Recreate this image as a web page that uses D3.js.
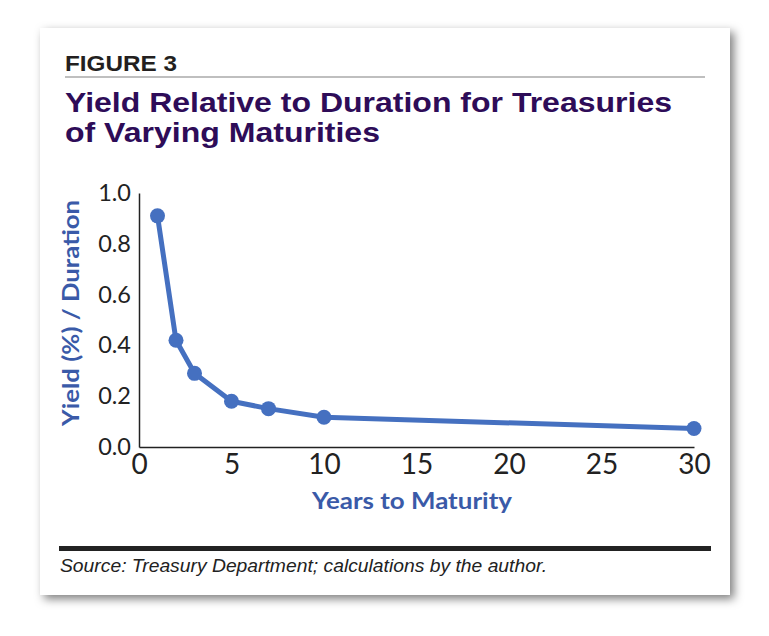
<!DOCTYPE html>
<html>
<head>
  <meta charset="utf-8">
  <script src="https://cdn.jsdelivr.net/npm/d3@7"></script>
  <style>
    body { margin: 0; background: #fff; }
    svg { display: block; }
  </style>
</head>
<body>
  <script>
    // data
    const maturities = [1, 2, 3, 5, 7, 10, 30]
    const ratios = [0.91, 0.42, 0.29, 0.18, 0.151, 0.117, 0.073]
    const xTicks = [0, 5, 10, 15, 20, 25, 30]
    const yTicks = [0, 0.2, 0.4, 0.6, 0.8, 1.0]

    const W = 769, H = 636
    const blue = '#4570c0'
    const labelBlue = '#3a5aa8'
    const purple = '#2e0c58'
    const ink = '#222'

    const svg = d3.select('body').append('svg')
      .attr('width', W).attr('height', H)

    const defs = svg.append('defs')
    const f = defs.append('filter').attr('id', 'shadow')
      .attr('x', '-10%').attr('y', '-10%').attr('width', '120%').attr('height', '120%')
    f.append('feDropShadow')
      .attr('dx', 4).attr('dy', 4).attr('stdDeviation', 5)
      .attr('flood-color', '#000').attr('flood-opacity', 0.5)

    // card
    svg.append('rect')
      .attr('x', 40).attr('y', 28).attr('width', 690).attr('height', 567)
      .attr('fill', '#fff').attr('filter', 'url(#shadow)')

    // header
    svg.append('text')
      .attr('x', 65).attr('y', 71)
      .attr('font-family', 'Liberation Sans, Arial, sans-serif')
      .attr('font-weight', 'bold').attr('font-size', 22)
      .attr('fill', '#231f20')
      .attr('textLength', 112).attr('lengthAdjust', 'spacingAndGlyphs')
      .text('FIGURE 3')

    svg.append('line')
      .attr('x1', 65).attr('x2', 705).attr('y1', 77).attr('y2', 77)
      .attr('stroke', '#aaa').attr('stroke-width', 1.5)

    const titleLines = ['Yield Relative to Duration for Treasuries', 'of Varying Maturities']
    const titleWidths = [607, 315]
    titleLines.forEach((t, i) => {
      svg.append('text')
        .attr('x', 65).attr('y', 112 + i * 29.5)
        .attr('font-family', 'Liberation Sans, Arial, sans-serif')
        .attr('font-weight', 'bold').attr('font-size', 28)
        .attr('fill', purple)
        .attr('textLength', titleWidths[i]).attr('lengthAdjust', 'spacingAndGlyphs')
        .text(t)
    })

    // chart
    const x = d3.scaleLinear().domain([0, 30]).range([139, 694])
    const y = d3.scaleLinear().domain([0, 1]).range([447, 193])

    const xAxis = svg.append('g')
      .attr('transform', `translate(0,${y(0)})`)
      .call(d3.axisBottom(x).tickValues(xTicks).tickSize(0).tickPadding(7).tickFormat(d3.format('d')))
    xAxis.select('.domain').attr('stroke', ink).attr('stroke-width', 1.5)
    xAxis.selectAll('text')
      .attr('font-family', 'Lato, sans-serif').attr('font-size', 28).attr('fill', ink)

    const yAxis = svg.append('g')
      .attr('transform', `translate(${x(0)},0)`)
      .call(d3.axisLeft(y).tickValues(yTicks).tickSize(0).tickPadding(8).tickFormat(d3.format('.1f')))
    yAxis.select('.domain').attr('stroke', ink).attr('stroke-width', 1.5)
    yAxis.selectAll('text')
      .attr('font-family', 'Lato, sans-serif').attr('font-size', 23.5).attr('fill', ink)

    const pts = maturities.map((m, i) => [m, ratios[i]])
    const line = d3.line().x(d => x(d[0])).y(d => y(d[1]))

    svg.append('path')
      .attr('d', line(pts))
      .attr('fill', 'none').attr('stroke', blue)
      .attr('stroke-width', 5).attr('stroke-linejoin', 'round')

    svg.selectAll('circle.pt').data(pts).join('circle')
      .attr('class', 'pt')
      .attr('cx', d => x(d[0])).attr('cy', d => y(d[1]))
      .attr('r', 7.5).attr('fill', blue)

    // axis titles
    svg.append('text')
      .attr('x', 412).attr('y', 509)
      .attr('text-anchor', 'middle')
      .attr('font-family', 'Lato, sans-serif').attr('font-weight', 'bold').attr('font-size', 23)
      .attr('fill', labelBlue)
      .attr('textLength', 200).attr('lengthAdjust', 'spacingAndGlyphs')
      .text('Years to Maturity')

    svg.append('text')
      .attr('transform', 'translate(79,313) rotate(-90)')
      .attr('text-anchor', 'middle')
      .attr('font-family', 'Lato, sans-serif').attr('font-weight', 'bold').attr('font-size', 23)
      .attr('fill', labelBlue)
      .attr('textLength', 226).attr('lengthAdjust', 'spacingAndGlyphs')
      .text('Yield (%) / Duration')

    // footer
    svg.append('rect')
      .attr('x', 59).attr('y', 546).attr('width', 652).attr('height', 5)
      .attr('fill', ink)

    svg.append('text')
      .attr('x', 60).attr('y', 572)
      .attr('font-family', 'Liberation Sans, Arial, sans-serif')
      .attr('font-style', 'italic').attr('font-size', 19)
      .attr('fill', ink)
      .attr('textLength', 487).attr('lengthAdjust', 'spacingAndGlyphs')
      .text('Source: Treasury Department; calculations by the author.')
  </script>
</body>
</html>
